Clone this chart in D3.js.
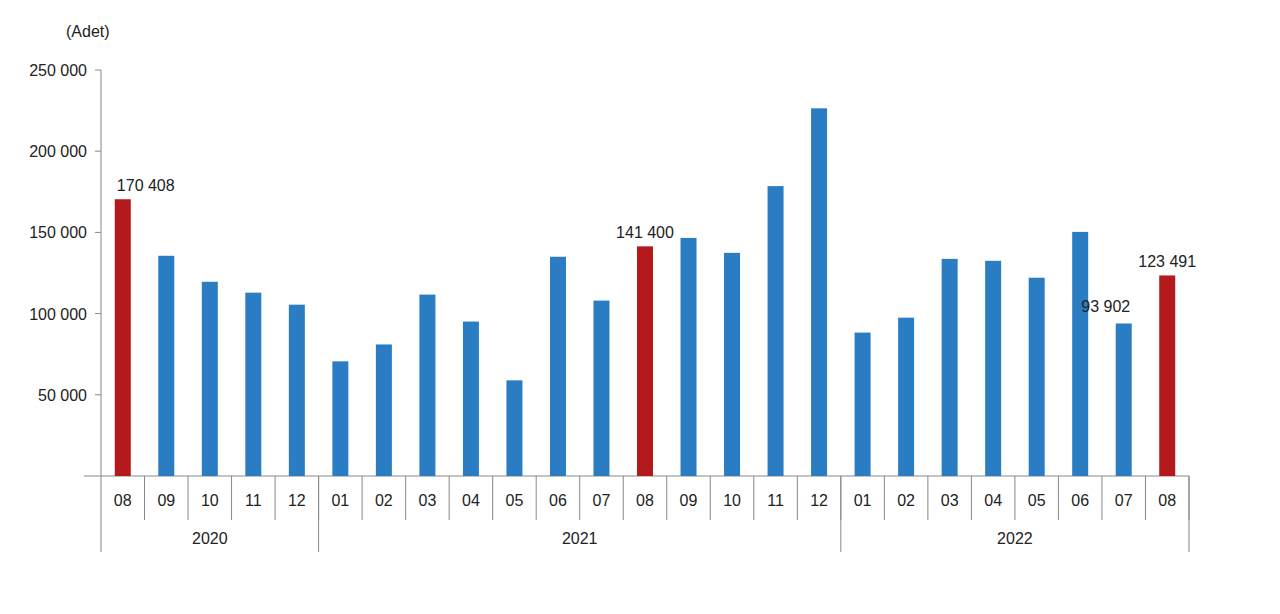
<!DOCTYPE html><html><head><meta charset="utf-8"><script src="https://cdn.jsdelivr.net/npm/d3@7"></script>
<style>body{margin:0;background:#fff}text{font-family:"Liberation Sans",Arial,sans-serif;fill:#222}</style></head><body><svg width="1280" height="614"></svg><script>
const months=["08","09","10","11","12","01","02","03","04","05","06","07","08","09","10","11","12","01","02","03","04","05","06","07","08"];
const years=[{y:"2020",n:5},{y:"2021",n:12},{y:"2022",n:8}];
const values=[170408,135600,119600,112900,105500,70600,81000,111700,95100,58900,135000,108000,141400,146600,137400,178500,226400,88300,97500,133700,132500,122100,150300,93902,123491];
const highlighted=[0,12,24];
const labeled=[0,12,23,24];
const yTicks=[50000,100000,150000,200000,250000];
const svg=d3.select("svg");
const x=d3.scaleBand().domain(d3.range(values.length)).range([101,1189]);
const y=d3.scaleLinear().domain([0,250000]).range([476,70]);
const fmt=v=>d3.format(",")(v).replace(/,/g," ");
svg.append("line").attr("x1",101).attr("x2",101).attr("y1",70).attr("y2",552).attr("stroke","#888");
svg.append("line").attr("x1",84).attr("x2",1189).attr("y1",476).attr("y2",476).attr("stroke","#888");
yTicks.forEach(t=>{svg.append("line").attr("x1",95).attr("x2",101).attr("y1",y(t)).attr("y2",y(t)).attr("stroke","#888");
svg.append("text").attr("x",87).attr("y",y(t)+6).attr("text-anchor","end").attr("font-size",16).text(fmt(t));});
svg.append("text").attr("x",66).attr("y",37).attr("font-size",16).text("(Adet)");
svg.selectAll("rect.b").data(values).join("rect").attr("x",(d,i)=>x(i)+x.bandwidth()/2-8).attr("width",16)
 .attr("y",d=>y(d)).attr("height",d=>476-y(d)).attr("fill",(d,i)=>highlighted.includes(i)?"#b4191b":"#2a7cc3");
labeled.forEach(i=>{svg.append("text").attr("x",x(i)+x.bandwidth()/2+(i===23?-18:(i===0?23:0))).attr("y",y(values[i])-(i===23?12:8))
 .attr("text-anchor","middle").attr("font-size",16).text(fmt(values[i]));});
months.forEach((m,i)=>{svg.append("text").attr("x",x(i)+x.bandwidth()/2).attr("y",506).attr("text-anchor","middle").attr("font-size",16).text(m);
 svg.append("line").attr("x1",x(i)+x.bandwidth()).attr("x2",x(i)+x.bandwidth()).attr("y1",476).attr("y2",520).attr("stroke","#888");});
let s=0;years.forEach(yr=>{const a=x(s),b=x(s+yr.n-1)+x.bandwidth();
 svg.append("line").attr("x1",b).attr("x2",b).attr("y1",476).attr("y2",552).attr("stroke","#888");
 svg.append("text").attr("x",(a+b)/2).attr("y",544).attr("text-anchor","middle").attr("font-size",16).text(yr.y);s+=yr.n;});
</script></body></html>
